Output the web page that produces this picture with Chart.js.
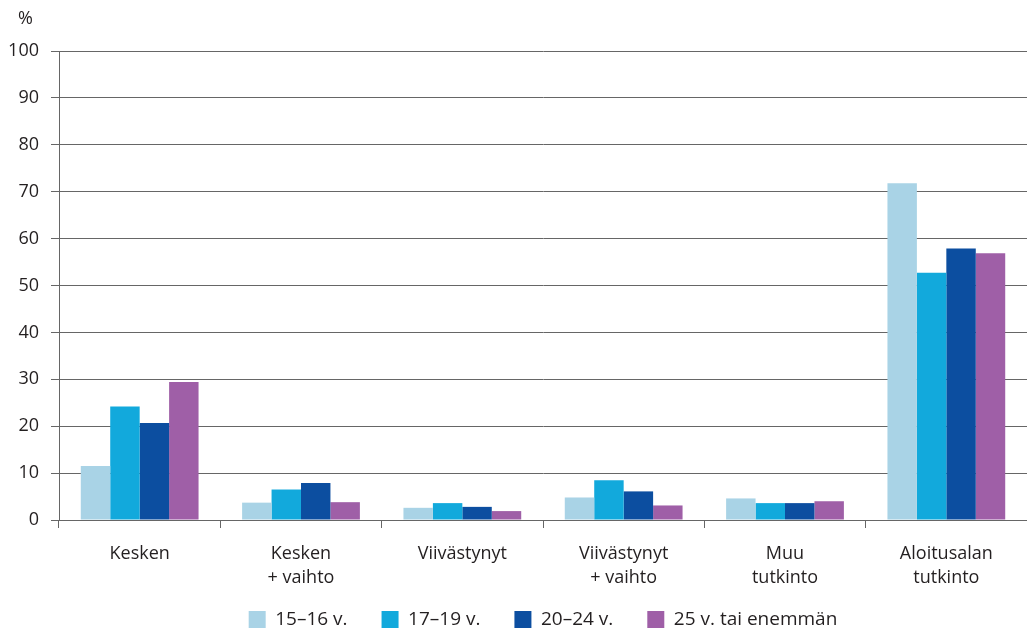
<!DOCTYPE html>
<html>
<head>
<meta charset="utf-8">
<script src="https://cdn.jsdelivr.net/npm/chart.js@4/dist/chart.umd.min.js"></script>
<style>
  html, body { margin: 0; padding: 0; background: #fff; }
  #wrap { width: 1027px; height: 630px; }
</style>
</head>
<body>
<div id="wrap"><canvas id="chartCanvas" width="1027" height="630"></canvas></div>
<script>
// data
const categories = [['Kesken'], ['Kesken', '+ vaihto'], ['Viivästynyt'], ['Viivästynyt', '+ vaihto'], ['Muu', 'tutkinto'], ['Aloitusalan', 'tutkinto']];
const seriesNames = ['15–16 v.', '17–19 v.', '20–24 v.', '25 v. tai enemmän'];
const age15to16 = [11.5, 3.7, 2.6, 4.8, 4.6, 71.8];
const age17to19 = [24.2, 6.5, 3.6, 8.5, 3.6, 52.7];
const age20to24 = [20.7, 7.9, 2.8, 6.1, 3.6, 57.9];
const age25plus = [29.4, 3.8, 1.9, 3.1, 4.0, 56.9];
const yTicks = [0, 10, 20, 30, 40, 50, 60, 70, 80, 90, 100];
const colors = ['#a9d3e6', '#12a9dc', '#0c4ea0', '#9f5fa7'];

const FONT = '"Open Sans", sans-serif';
const TEXT = '#231f20';
const GRID = '#666';

// "%" above the y axis
const percentLabel = {
  id: 'percentLabel',
  afterDraw(chart) {
    const ctx = chart.ctx;
    ctx.save();
    ctx.font = '18px ' + FONT;
    ctx.fillStyle = TEXT;
    ctx.textBaseline = 'middle';
    ctx.fillText('%', 18, 19);
    ctx.restore();
  }
};

const ctx = document.getElementById('chartCanvas').getContext('2d');
const chart = new Chart(ctx, {
  type: 'bar',
  data: {
    labels: categories,
    datasets: [age15to16, age17to19, age20to24, age25plus].map((d, i) => ({
      label: seriesNames[i],
      data: d,
      backgroundColor: colors[i],
      borderWidth: 0,
      categoryPercentage: 0.73,
      barPercentage: 1.0
    }))
  },
  options: {
    responsive: false,
    animation: false,
    layout: { padding: { top: 51, left: 0, right: 0, bottom: 0 } },
    plugins: {
      tooltip: { enabled: false },
      legend: {
        position: 'bottom',
        fullSize: false,   // centre it under the plot area, like the original
        maxHeight: 54,
        labels: {
          boxWidth: 17,
          boxHeight: 17,
          padding: 34,
          color: TEXT,
          font: { family: FONT, size: 19 }
        }
      }
    },
    scales: {
      x: {
        grid: { display: true, drawOnChartArea: false, offset: true, tickLength: 8, color: GRID, lineWidth: 1 },
        border: { display: false },
        ticks: { color: TEXT, font: { family: FONT, size: 18, lineHeight: 1.33 }, padding: 14, maxRotation: 0, autoSkip: false },
        afterFit(scale) {
          scale.height = 56;
          // let the two-line labels run past the axis box
          scale._computeLabelArea = () => undefined;
        }
      },
      y: {
        min: 0,
        max: 100,
        afterBuildTicks(scale) { scale.ticks = yTicks.map(v => ({ value: v })); },
        grid: { color: GRID, lineWidth: 1, tickLength: 8 },
        border: { display: true, color: GRID, width: 1 },
        ticks: { color: TEXT, font: { family: FONT, size: 18 }, padding: 12 },
        afterFit(scale) { scale.width = 59; }
      }
    }
  },
  plugins: [percentLabel]
});
</script>
</body>
</html>
